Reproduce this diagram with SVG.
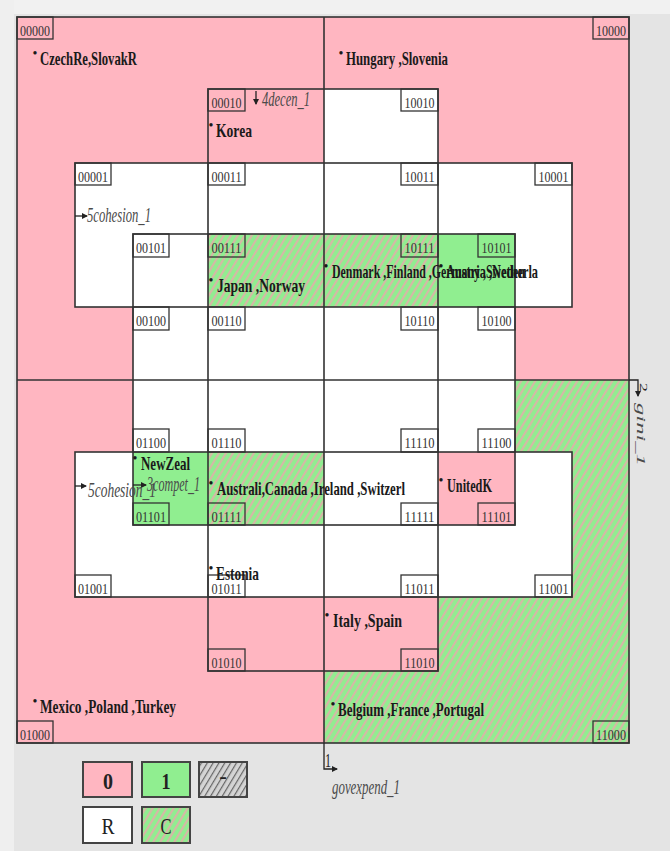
<svg xmlns="http://www.w3.org/2000/svg" width="670" height="851" viewBox="0 0 670 851">
<style>
.pk{fill:#ffb6c1}.gr{fill:#90ee90}.wh{fill:#ffffff}.ht{fill:url(#hatch)}
.ln{fill:none;stroke:#333;stroke-width:1.6}
.lb{fill:none;stroke:#333;stroke-width:1.3}
.code{font-family:"Liberation Serif",serif;font-size:14px;fill:#333;text-anchor:middle}
.case{font-family:"Liberation Serif",serif;font-weight:bold;font-size:19px;fill:#1a1a1a}
.bul{font-family:"Liberation Serif",serif;font-size:14px;fill:#1a1a1a;text-anchor:middle}
.var{font-family:"Liberation Serif",serif;font-style:italic;font-size:20px;fill:#4a4a4a}
.num{font-family:"Liberation Serif",serif;font-size:18px;fill:#222}
.leg{stroke:#444;stroke-width:2}
.lt{font-family:"Liberation Serif",serif;font-size:23px;fill:#222;text-anchor:middle}
.con{fill:none;stroke:#222;stroke-width:1.3}
</style>
<defs>
<pattern id="hatch" patternUnits="userSpaceOnUse" width="6" height="6" patternTransform="rotate(31)">
<rect width="6" height="6" fill="#90ee90"/><rect width="2.2" height="6" fill="#d6b7a6"/>
</pattern>
<pattern id="ghatch" patternUnits="userSpaceOnUse" width="5" height="5" patternTransform="rotate(31)">
<rect width="5" height="5" fill="#d4d4d4"/><rect width="1.2" height="5" fill="#666"/>
</pattern>
<marker id="ah" markerWidth="6" markerHeight="6" refX="5" refY="3" orient="auto" markerUnits="userSpaceOnUse">
<path d="M0,0 L6,3 L0,6 Z" fill="#222"/>
</marker>
</defs>
<rect width="670" height="851" fill="#e4e4e4"/>
<rect width="670" height="14" fill="#f1f1f1"/>
<rect width="14" height="851" fill="#efefef"/>

<g id="regions">
<rect x="17" y="17" width="612" height="363" class="pk"/>
<rect x="17" y="380" width="307" height="363" class="pk"/>
<rect x="324" y="380" width="305" height="363" class="ht"/>
<rect x="75" y="163" width="497" height="144" class="wh"/>
<rect x="75" y="452" width="497" height="145" class="wh"/>
<rect x="133" y="234" width="382" height="291" class="wh"/>
<rect x="208" y="163" width="230" height="434" class="wh"/>
<rect x="324" y="89" width="114" height="74" class="wh"/>
<rect x="324" y="597" width="114" height="74" class="pk"/>
<rect x="208" y="234" width="116" height="73" class="ht"/>
<rect x="324" y="234" width="114" height="73" class="ht"/>
<rect x="438" y="234" width="77" height="73" class="gr"/>
<rect x="133" y="452" width="75" height="73" class="gr"/>
<rect x="208" y="452" width="116" height="73" class="ht"/>
<rect x="438" y="452" width="77" height="73" class="pk"/>
<rect x="17" y="17" width="612" height="726" class="ln" stroke-width="2"/>
<path d="M324,17 V743 M17,380 H629" class="ln"/>
<rect x="208" y="89" width="230" height="582" class="ln"/>
<rect x="75" y="163" width="497" height="144" class="ln"/>
<rect x="75" y="452" width="497" height="145" class="ln"/>
<rect x="133" y="234" width="382" height="291" class="ln"/>
</g>

<g id="connectors">
<path d="M324,743 V769 H337" class="con" marker-end="url(#ah)"/>
<path d="M629,380 H638 V396" class="con" marker-end="url(#ah)"/>
<path d="M256,91 V104" class="con" marker-end="url(#ah)"/>
<path d="M75,216 H87" class="con" marker-end="url(#ah)"/>
<path d="M75,486 H86" class="con" marker-end="url(#ah)"/>
<path d="M133,485 H146" class="con" marker-end="url(#ah)"/>
</g>

<g id="c00000"><rect x="17" y="17" width="36" height="22" class="lb"/><text x="35" y="36" class="code" textLength="30" lengthAdjust="spacingAndGlyphs">00000</text>
<text x="35" y="58" class="bul">•</text><text x="40" y="65" class="case" textLength="97" lengthAdjust="spacingAndGlyphs">CzechRe,SlovakR</text></g>
<g id="c10000"><rect x="593" y="17" width="36" height="22" class="lb"/><text x="611" y="36" class="code" textLength="30" lengthAdjust="spacingAndGlyphs">10000</text>
<text x="341" y="58" class="bul">•</text><text x="346" y="65" class="case" textLength="102" lengthAdjust="spacingAndGlyphs">Hungary ,Slovenia</text></g>
<g id="c00010"><rect x="208" y="89" width="37" height="22" class="lb"/><text x="226.5" y="108" class="code" textLength="30" lengthAdjust="spacingAndGlyphs">00010</text>
<text x="211" y="130" class="bul">•</text><text x="216" y="137" class="case" textLength="36" lengthAdjust="spacingAndGlyphs">Korea</text></g>
<g id="c10010"><rect x="401" y="89" width="37" height="22" class="lb"/><text x="419.5" y="108" class="code" textLength="30" lengthAdjust="spacingAndGlyphs">10010</text></g>
<g id="c00001"><rect x="75" y="163" width="36" height="22" class="lb"/><text x="93" y="182" class="code" textLength="30" lengthAdjust="spacingAndGlyphs">00001</text></g>
<g id="c00011"><rect x="208" y="163" width="37" height="22" class="lb"/><text x="226.5" y="182" class="code" textLength="30" lengthAdjust="spacingAndGlyphs">00011</text></g>
<g id="c10011"><rect x="401" y="163" width="37" height="22" class="lb"/><text x="419.5" y="182" class="code" textLength="30" lengthAdjust="spacingAndGlyphs">10011</text></g>
<g id="c10001"><rect x="535" y="163" width="37" height="22" class="lb"/><text x="553.5" y="182" class="code" textLength="30" lengthAdjust="spacingAndGlyphs">10001</text></g>
<g id="c00101"><rect x="133" y="234" width="36" height="23" class="lb"/><text x="151" y="253" class="code" textLength="30" lengthAdjust="spacingAndGlyphs">00101</text></g>
<g id="c00111"><rect x="208" y="234" width="37" height="23" class="lb"/><text x="226.5" y="253" class="code" textLength="30" lengthAdjust="spacingAndGlyphs">00111</text>
<text x="211" y="285" class="bul">•</text><text x="217" y="292" class="case" textLength="88" lengthAdjust="spacingAndGlyphs">Japan ,Norway</text></g>
<g id="c10111"><rect x="401" y="234" width="37" height="23" class="lb"/><text x="419.5" y="253" class="code" textLength="30" lengthAdjust="spacingAndGlyphs">10111</text>
<text x="326" y="271" class="bul">•</text><text x="332" y="278" class="case" textLength="193" lengthAdjust="spacingAndGlyphs">Denmark ,Finland ,Germany ,Sweden</text></g>
<g id="c10101"><rect x="478" y="234" width="37" height="23" class="lb"/><text x="496.5" y="253" class="code" textLength="30" lengthAdjust="spacingAndGlyphs">10101</text>
<text x="441" y="271" class="bul">•</text><text x="446" y="278" class="case" textLength="92" lengthAdjust="spacingAndGlyphs">Austria ,Netherla</text></g>
<g id="c00100"><rect x="133" y="307" width="36" height="23" class="lb"/><text x="151" y="326" class="code" textLength="30" lengthAdjust="spacingAndGlyphs">00100</text></g>
<g id="c00110"><rect x="208" y="307" width="37" height="23" class="lb"/><text x="226.5" y="326" class="code" textLength="30" lengthAdjust="spacingAndGlyphs">00110</text></g>
<g id="c10110"><rect x="401" y="307" width="37" height="23" class="lb"/><text x="419.5" y="326" class="code" textLength="30" lengthAdjust="spacingAndGlyphs">10110</text></g>
<g id="c10100"><rect x="478" y="307" width="37" height="23" class="lb"/><text x="496.5" y="326" class="code" textLength="30" lengthAdjust="spacingAndGlyphs">10100</text></g>
<g id="c01100"><rect x="133" y="429" width="36" height="23" class="lb"/><text x="151" y="448" class="code" textLength="30" lengthAdjust="spacingAndGlyphs">01100</text></g>
<g id="c01110"><rect x="208" y="429" width="37" height="23" class="lb"/><text x="226.5" y="448" class="code" textLength="30" lengthAdjust="spacingAndGlyphs">01110</text></g>
<g id="c11110"><rect x="401" y="429" width="37" height="23" class="lb"/><text x="419.5" y="448" class="code" textLength="30" lengthAdjust="spacingAndGlyphs">11110</text></g>
<g id="c11100"><rect x="478" y="429" width="37" height="23" class="lb"/><text x="496.5" y="448" class="code" textLength="30" lengthAdjust="spacingAndGlyphs">11100</text></g>
<g id="c01101"><rect x="133" y="503" width="36" height="22" class="lb"/><text x="151" y="522" class="code" textLength="30" lengthAdjust="spacingAndGlyphs">01101</text>
<text x="135" y="463" class="bul">•</text><text x="141" y="470" class="case" textLength="49" lengthAdjust="spacingAndGlyphs">NewZeal</text></g>
<g id="c01111"><rect x="208" y="503" width="37" height="22" class="lb"/><text x="226.5" y="522" class="code" textLength="30" lengthAdjust="spacingAndGlyphs">01111</text>
<text x="211" y="488" class="bul">•</text><text x="217" y="495" class="case" textLength="188" lengthAdjust="spacingAndGlyphs">Australi,Canada ,Ireland ,Switzerl</text></g>
<g id="c11111"><rect x="401" y="503" width="37" height="22" class="lb"/><text x="419.5" y="522" class="code" textLength="30" lengthAdjust="spacingAndGlyphs">11111</text></g>
<g id="c11101"><rect x="478" y="503" width="37" height="22" class="lb"/><text x="496.5" y="522" class="code" textLength="30" lengthAdjust="spacingAndGlyphs">11101</text>
<text x="441" y="485" class="bul">•</text><text x="447" y="492" class="case" textLength="45" lengthAdjust="spacingAndGlyphs">UnitedK</text></g>
<g id="c01001"><rect x="75" y="575" width="36" height="22" class="lb"/><text x="93" y="594" class="code" textLength="30" lengthAdjust="spacingAndGlyphs">01001</text></g>
<g id="c01011"><rect x="208" y="575" width="37" height="22" class="lb"/><text x="226.5" y="594" class="code" textLength="30" lengthAdjust="spacingAndGlyphs">01011</text>
<text x="211" y="573" class="bul">•</text><text x="216" y="580" class="case" textLength="43" lengthAdjust="spacingAndGlyphs">Estonia</text></g>
<g id="c11011"><rect x="401" y="575" width="37" height="22" class="lb"/><text x="419.5" y="594" class="code" textLength="30" lengthAdjust="spacingAndGlyphs">11011</text></g>
<g id="c11001"><rect x="535" y="575" width="37" height="22" class="lb"/><text x="553.5" y="594" class="code" textLength="30" lengthAdjust="spacingAndGlyphs">11001</text></g>
<g id="c01010"><rect x="208" y="649" width="37" height="22" class="lb"/><text x="226.5" y="668" class="code" textLength="30" lengthAdjust="spacingAndGlyphs">01010</text></g>
<g id="c11010"><rect x="401" y="649" width="37" height="22" class="lb"/><text x="419.5" y="668" class="code" textLength="30" lengthAdjust="spacingAndGlyphs">11010</text>
<text x="327" y="620" class="bul">•</text><text x="333" y="627" class="case" textLength="69" lengthAdjust="spacingAndGlyphs">Italy ,Spain</text></g>
<g id="c01000"><rect x="17" y="721" width="36" height="22" class="lb"/><text x="35" y="740" class="code" textLength="30" lengthAdjust="spacingAndGlyphs">01000</text>
<text x="35" y="706" class="bul">•</text><text x="40" y="713" class="case" textLength="136" lengthAdjust="spacingAndGlyphs">Mexico ,Poland ,Turkey</text></g>
<g id="c11000"><rect x="593" y="721" width="36" height="22" class="lb"/><text x="611" y="740" class="code" textLength="30" lengthAdjust="spacingAndGlyphs">11000</text>
<text x="333" y="709" class="bul">•</text><text x="338" y="716" class="case" textLength="146" lengthAdjust="spacingAndGlyphs">Belgium ,France ,Portugal</text></g>

<g id="v-decen"><text x="262" y="106" class="var" textLength="48" lengthAdjust="spacingAndGlyphs">4decen_1</text></g>
<g id="v-cohesion"><text x="87" y="222" class="var" textLength="64" lengthAdjust="spacingAndGlyphs">5cohesion_1</text>
<text x="88" y="497" class="var" textLength="68" lengthAdjust="spacingAndGlyphs">5cohesion_1</text></g>
<g id="v-compet"><text x="147" y="491" class="var" textLength="53" lengthAdjust="spacingAndGlyphs">3compet_1</text></g>
<g id="v-govexpend"><text x="325" y="767" class="num" textLength="6" lengthAdjust="spacingAndGlyphs">1</text>
<text x="332" y="794" class="var" font-size="22" textLength="68" lengthAdjust="spacingAndGlyphs">govexpend_1</text></g>
<g id="v-gini"><text transform="translate(640,383) scale(0.6,1) rotate(90)" class="num" x="0" y="0">2</text>
<text transform="translate(637,403) scale(0.6,1) rotate(90)" class="var" font-size="24" x="0" y="0" textLength="63" lengthAdjust="spacingAndGlyphs">gini_1</text></g>

<g id="legend">
<rect x="83" y="762" width="49" height="35" class="pk leg"/><text x="108" y="789" class="lt" font-weight="bold" textLength="10" lengthAdjust="spacingAndGlyphs">0</text>
<rect x="142" y="762" width="48" height="35" class="gr leg"/><text x="166" y="789" class="lt" font-weight="bold" textLength="9" lengthAdjust="spacingAndGlyphs">1</text>
<rect x="199" y="762" width="48" height="35" fill="url(#ghatch)" class="leg"/><text x="223" y="784" class="lt" font-size="10">-</text>
<rect x="83" y="807" width="49" height="36" class="wh leg"/><text x="108" y="834" class="lt" textLength="13" lengthAdjust="spacingAndGlyphs">R</text>
<rect x="142" y="807" width="48" height="36" class="ht leg"/><text x="166" y="834" class="lt" textLength="11" lengthAdjust="spacingAndGlyphs">C</text>
</g>
</svg>
